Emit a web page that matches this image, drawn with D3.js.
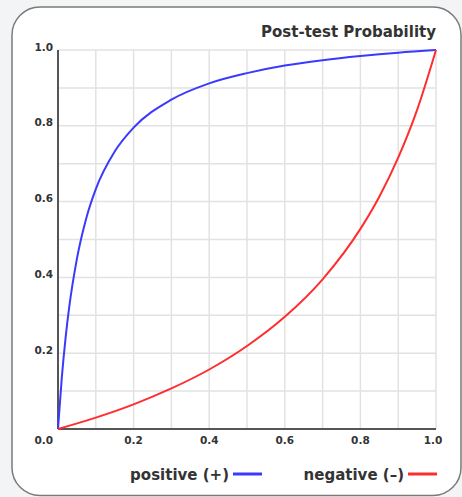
<!DOCTYPE html>
<html><head><meta charset="utf-8">
<script src="https://cdn.jsdelivr.net/npm/d3@7"></script>
<style>
html,body{margin:0;padding:0;background:#f3f4f6;}
svg{display:block;}
text{font-family:"DejaVu Sans",sans-serif;fill:#333;}
</style></head>
<body>
<svg id="chart" width="462" height="497"></svg>
<script>
const pretest = [0, 0.01, 0.02, 0.03, 0.05, 0.075, 0.1, 0.15, 0.2, 0.3, 0.4, 0.5, 0.6, 0.7, 0.8, 0.9, 1.0];
const positiveValues = [0, 0.135, 0.240, 0.324, 0.449, 0.557, 0.633, 0.732, 0.795, 0.869, 0.912, 0.939, 0.959, 0.973, 0.984, 0.993, 1.0];
const pretestNeg = [0, 0.1, 0.2, 0.3, 0.4, 0.5, 0.6, 0.7, 0.8, 0.85, 0.9, 0.95, 1.0];
const negativeValues = [0, 0.030, 0.065, 0.107, 0.157, 0.219, 0.296, 0.395, 0.528, 0.613, 0.716, 0.842, 1.0];
const xTickLabels = ["0.2", "0.4", "0.6", "0.8", "1.0"];
const yTickLabels = ["0.2", "0.4", "0.6", "0.8", "1.0"];
const seriesNames = ["positive (+)", "negative (\u2013)"];
const title = "Post-test Probability";

const svg = d3.select("#chart");
svg.append("rect").attr("x", 12).attr("y", 7).attr("width", 449).attr("height", 488.5)
  .attr("rx", 28).attr("ry", 28).attr("fill", "#fff").attr("stroke", "#7a7a7a").attr("stroke-width", 1.5);

const x = d3.scaleLinear().domain([0, 1]).range([58, 436]);
const y = d3.scaleLinear().domain([0, 1]).range([429, 50]);
const gridVals = d3.range(1, 11).map(d => d / 10);

const g = svg.append("g");
g.selectAll(".vg").data(gridVals).enter().append("line")
  .attr("x1", d => x(d)).attr("x2", d => x(d)).attr("y1", y(0)).attr("y2", y(1))
  .attr("stroke", "#e2e2e2").attr("stroke-width", 1.5);
g.selectAll(".hg").data(gridVals).enter().append("line")
  .attr("x1", x(0)).attr("x2", x(1)).attr("y1", d => y(d)).attr("y2", d => y(d))
  .attr("stroke", "#e2e2e2").attr("stroke-width", 1.5);

// axes
g.append("line").attr("x1", x(0)).attr("x2", x(0)).attr("y1", y(0)).attr("y2", y(1))
  .attr("stroke", "#555").attr("stroke-width", 2);
g.append("line").attr("x1", x(0)).attr("x2", x(1)).attr("y1", y(0)).attr("y2", y(0))
  .attr("stroke", "#555").attr("stroke-width", 2);

// tick labels
g.selectAll(".yl").data(yTickLabels).enter().append("text")
  .attr("x", x(0) - 5).attr("y", d => y(+d) - 3).attr("dy", "0.35em")
  .attr("text-anchor", "end").attr("font-size", 10.5).attr("font-weight", "bold").text(d => d);
g.selectAll(".xl").data(xTickLabels).enter().append("text")
  .attr("x", d => +d === 1 ? x(+d) - 3 : x(+d)).attr("y", y(0) + 11).attr("dy", "0.35em")
  .attr("text-anchor", "middle").attr("font-size", 10.5).attr("font-weight", "bold").text(d => d);
g.append("text").attr("x", x(0) - 5).attr("y", y(0) + 11).attr("dy", "0.35em")
  .attr("text-anchor", "end").attr("font-size", 10.5).attr("font-weight", "bold").text("0.0");

// title
g.append("text").attr("x", 436).attr("y", 32).attr("dy", "0.35em").attr("text-anchor", "end")
  .attr("font-size", 15).attr("font-weight", "bold").text(title);

// lines
const line = d3.line().x(d => x(d[0])).y(d => y(d[1])).curve(d3.curveMonotoneX);
g.append("path").datum(pretest.map((p, i) => [p, positiveValues[i]]))
  .attr("d", line).attr("fill", "none").attr("stroke", "#3a3aff").attr("stroke-width", 2);
g.append("path").datum(pretestNeg.map((p, i) => [p, negativeValues[i]]))
  .attr("d", line).attr("fill", "none").attr("stroke", "#ff2e2e").attr("stroke-width", 2);

// legend
const colors = ["#3a3aff", "#ff2e2e"];
const legendEnds = [229, 404];
seriesNames.forEach((name, i) => {
  g.append("text").attr("x", legendEnds[i]).attr("y", 475).attr("dy", "0.35em")
    .attr("text-anchor", "end").attr("font-size", 15).attr("font-weight", "bold").text(name);
  g.append("line").attr("x1", legendEnds[i] + 4).attr("x2", legendEnds[i] + 33)
    .attr("y1", 474).attr("y2", 474).attr("stroke", colors[i]).attr("stroke-width", 3);
});
</script>
</body></html>
